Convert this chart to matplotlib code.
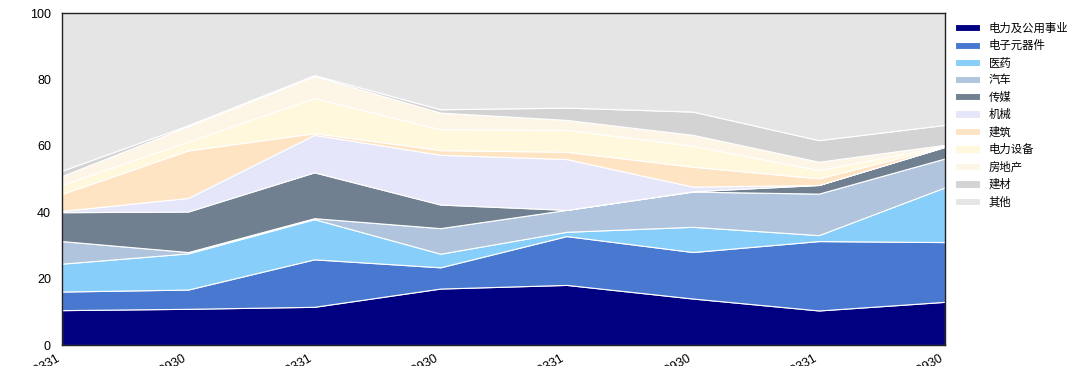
import numpy as np
import matplotlib
matplotlib.use("Agg")
import matplotlib.pyplot as plt

plt.rcParams['font.family'] = ['Liberation Sans', 'Noto Sans CJK SC', 'DejaVu Sans']

# report dates (x axis)
dates = ['20190331', '20190930', '20200331', '20200930',
         '20210331', '20210930', '20220331', '20220930']

industries = ['电力及公用事业', '电子元器件', '医药', '汽车', '传媒', '机械',
              '建筑', '电力设备', '房地产', '建材', '其他']

# weights (%) per industry
power_utility = [10.5, 10.9, 11.5, 17.0, 18.1, 14.0, 10.4, 13.0]
electronics = [5.6, 5.8, 14.3, 6.4, 14.7, 14.0, 20.9, 18.0]
pharma = [8.4, 10.9, 12.1, 4.1, 1.3, 7.6, 1.8, 16.5]
auto = [6.8, 0.4, 0.3, 7.7, 6.6, 10.6, 12.5, 8.7]
media = [8.7, 12.2, 13.8, 7.1, 0.0, 0.1, 2.6, 3.5]
machinery = [0.4, 4.1, 11.3, 15.0, 15.3, 1.4, 0.0, 0.0]
construction = [5.1, 14.3, 0.5, 1.4, 2.2, 6.0, 2.0, 0.1]
power_equip = [2.8, 2.7, 10.6, 6.3, 6.6, 6.3, 2.5, 0.2]
real_estate = [2.6, 4.6, 6.6, 5.0, 3.0, 3.3, 2.5, 0.3]
materials = [1.6, 0.3, 0.3, 1.0, 3.7, 7.0, 6.5, 6.0]

series = [power_utility, electronics, pharma, auto, media, machinery,
          construction, power_equip, real_estate, materials]
others = [100 - sum(col) for col in zip(*series)]
series.append(others)

colors = ['navy', '#4878CF', 'lightskyblue', 'lightsteelblue', 'slategray',
          'lavender', 'bisque', 'cornsilk', 'oldlace', 'lightgray', '#E5E5E5']

fig = plt.figure(figsize=(10.8, 3.66), dpi=100)
ax = fig.add_axes([62 / 1080, 21 / 366, 883 / 1080, 332 / 366])

x = np.arange(len(dates))
ax.stackplot(x, *series, labels=industries, colors=colors,
             edgecolor='white', linewidth=0.8)

ax.set_xlim(0, len(dates) - 1)
ax.set_ylim(0, 100)
ax.set_yticks(range(0, 101, 20))
ax.set_xticks(x)
ax.set_xticklabels(dates, rotation=30, ha='right')
ax.tick_params(axis='both', length=0, labelsize=9)
ax.tick_params(axis='y', pad=8)
ax.tick_params(axis='x', pad=5.5)
for s in ax.spines.values():
    s.set_color('#222222')
    s.set_linewidth(1)

ax.legend(loc='upper left', bbox_to_anchor=(1.002, 0.995), frameon=False,
          fontsize=8.2, handlelength=2.2, handleheight=0.6,
          labelspacing=0.55, borderaxespad=0.3)

fig.savefig('out.png', dpi=100)
